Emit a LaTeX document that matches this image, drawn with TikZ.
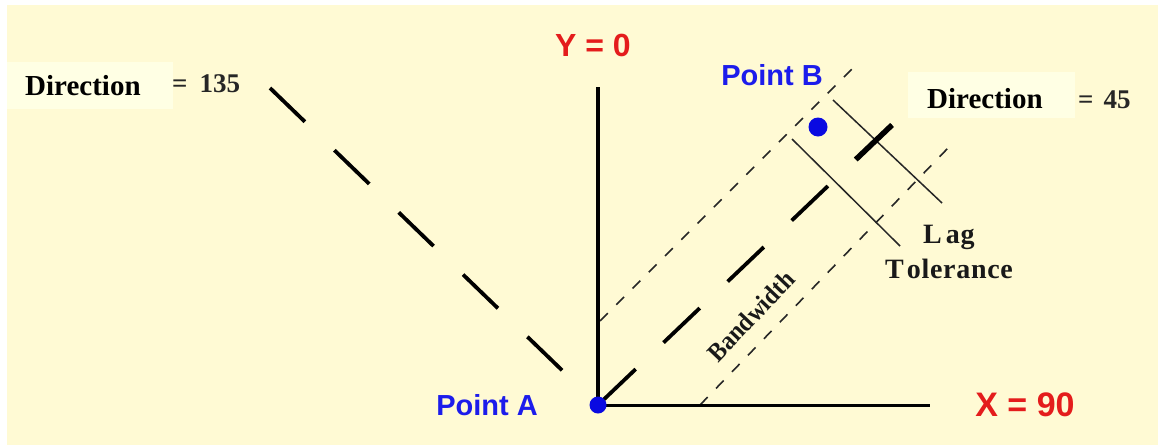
\documentclass[tikz,border=0pt]{standalone}
\usepackage{fontspec}
\usepackage{graphicx}
\setmainfont{Liberation Serif}
\newfontfamily\arialf{Liberation Sans}
\newfontfamily\spacedserif[LetterSpace=2.5]{Liberation Serif}
\usetikzlibrary{calc}
\definecolor{bgc}{RGB}{255,250,212}
\definecolor{boxc}{RGB}{255,255,228}
\definecolor{lblred}{RGB}{228,28,28}
\definecolor{lblblue}{RGB}{28,28,235}
\definecolor{dotblue}{RGB}{10,10,225}
\begin{document}
\begin{tikzpicture}[x=1pt,y=-1pt,
  axisline/.style={line width=3.6pt,black},
  dirline/.style={line width=3.8pt,black,dash pattern=on 50pt off 38.5pt},
  dirlineb/.style={line width=3.8pt,black,dash pattern=on 48.5pt off 41pt},
  bandline/.style={line width=1.6pt,black!85,dash pattern=on 11pt off 12pt},
  lagline/.style={line width=1.5pt,black!85},
  dirtext/.style={font=\fontsize{29}{29}\selectfont\bfseries,inner sep=0pt,anchor=base west},
  eqtext/.style={font=\fontsize{27}{27}\selectfont\bfseries,inner sep=0pt,anchor=base west,text=black!85},
  axtext/.style={font=\arialf\bfseries,text=lblred,inner sep=0pt},
  pttext/.style={font=\arialf\fontsize{29}{29}\selectfont\bfseries,text=lblblue,inner sep=0pt},
  lagtext/.style={font=\spacedserif\fontsize{28}{28}\selectfont\bfseries,inner sep=0pt,anchor=base west,text=black!90},
  dotstyle/.style={circle,fill=dotblue,inner sep=0pt}
]
\useasboundingbox (0,0) rectangle (1158,445);
\fill[white] (0,0) rectangle (1158,445);
\fill[bgc] (7,5) rectangle (1158,445);
% label boxes
\fill[boxc] (7,62) rectangle (173,109);
\fill[boxc] (908,72) rectangle (1075,118);

% coordinates
\coordinate (A) at (598,405);
\coordinate (Ytop) at (598,87);
\coordinate (Xend) at (930,405);
\coordinate (E135) at (270,88);
\coordinate (E45) at (892,125);
\coordinate (U1) at (600,321);
\coordinate (U2) at (852,69);
\coordinate (L1) at (700,405);
\coordinate (L2) at (948,148);
\coordinate (P1a) at (833,100);
\coordinate (P1b) at (942,203);
\coordinate (P2a) at (792,139);
\coordinate (P2b) at (900,246);

% bandwidth lines
\draw[bandline] (U1) -- (U2);
\draw[bandline] (L1) -- (L2);
% lag tolerance lines
\draw[lagline] (P1a) -- (P1b);
\draw[lagline] (P2a) -- (P2b);

% direction lines
\draw[dirlineb] (E135) -- ($(A)!50pt!(E135)$);
\draw[dirline] (E45) -- (A);
\draw[line width=5.5pt] (E45) -- ($(E45)!50pt!(A)$);

% axes
\draw[axisline] (A) -- (Ytop);
\draw[line width=3pt] (A) -- (Xend);

% points
\node[dotstyle,minimum size=17pt] (dotA) at (A) {};
\node[dotstyle,minimum size=19pt] (dotB) at (818,127) {};

% labels
\node[axtext,font=\arialf\fontsize{32}{32}\selectfont\bfseries] (ylbl) at (593,45) {Y = 0};
\node[axtext,font=\arialf\fontsize{34}{34}\selectfont\bfseries] (xlbl) at (1025,405) {X = 90};
\node[pttext] (ptA) at (487,405) {Point A};
\node[pttext] (ptB) at (772,75) {Point B};

\node[dirtext] (dir1) at (25,95) {Direction};
\node[eqtext] (eq1) at (172,92) {=\hspace{12pt}135};
\node[dirtext] (dir2) at (927,108) {Direction};
\node[eqtext] (eq2) at (1078,108) {=\hspace{10pt}45};

\node[lagtext] (lag) at (923,243) {L\hspace{4pt}ag};
\node[lagtext] (tol) at (885,278) {T\hspace{3pt}olerance};

\node[font=\fontsize{26}{26}\selectfont\bfseries,rotate=46.5,inner sep=0pt,text=black!90] (bw) at (751,316) {\scalebox{0.92}[1]{Bandwidth}};
\end{tikzpicture}
\end{document}
